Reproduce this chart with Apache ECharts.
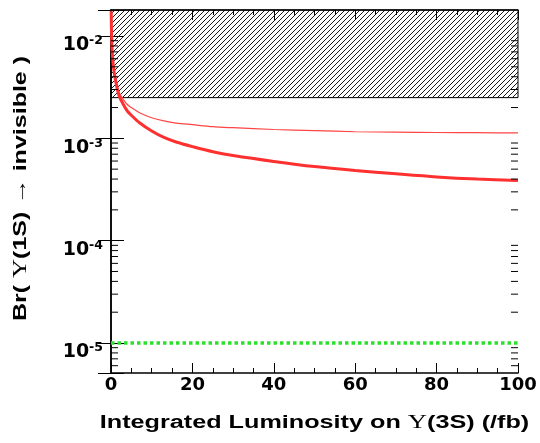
<!DOCTYPE html>
<html>
<head>
<meta charset="utf-8">
<script src="https://cdn.jsdelivr.net/npm/echarts@6/dist/echarts.min.js"></script>
<style>
  html, body { margin: 0; padding: 0; background: #fff; }
  #main { width: 540px; height: 443px; }
</style>
</head>
<body>
<div id="main"></div>
<script>
// luminosity points (/fb)
const lumi = [0.05, 0.1, 0.2, 0.3, 0.5, 0.75, 1, 1.5, 2, 3, 4, 5, 7, 10, 13, 16, 20, 25, 30, 40, 50, 60, 70, 80, 90, 100];
// thick red curve
const brThick = [0.0175, 0.012, 0.0086, 0.007, 0.0055, 0.0045, 0.0039, 0.0031, 0.0026, 0.00215, 0.00185, 0.00168, 0.00142, 0.00118,
  0.00102, 0.00092, 0.00083, 0.00074, 0.00068, 0.000595, 0.00053, 0.000485, 0.00045, 0.00042, 0.0004, 0.000388];
// thin red curve
const brThin = [0.0175, 0.012, 0.00866, 0.00708, 0.0056, 0.00462, 0.00404, 0.00328, 0.00281, 0.0024, 0.00214, 0.002, 0.00178, 0.00159,
  0.00148, 0.00141, 0.00136, 0.0013, 0.00127, 0.00122, 0.00119, 0.00116, 0.00115, 0.00114, 0.001135, 0.00113];
// green dotted level
const greenX = [0, 100];
const greenY = [1e-5, 1e-5];
// excluded (hatched) region
const hatchLow = 2.5e-3;
const yMin = 5.09e-6;
const yMax = 0.01796;
// minor ticks on log axis
const minorY = [6e-6, 7e-6, 8e-6, 9e-6,
  2e-5, 3e-5, 4e-5, 5e-5, 6e-5, 7e-5, 8e-5, 9e-5,
  2e-4, 3e-4, 4e-4, 5e-4, 6e-4, 7e-4, 8e-4, 9e-4,
  2e-3, 3e-3, 4e-3, 5e-3, 6e-3, 7e-3, 8e-3, 9e-3];

const FONT = 'Liberation Sans';
const TICKFONT = 'DejaVu Sans';

// hatch pattern "////"
const tile = document.createElement('canvas');
tile.width = 5; tile.height = 5;
const ctx = tile.getContext('2d');
ctx.strokeStyle = '#000';
ctx.lineWidth = 0.9;
ctx.beginPath();
ctx.moveTo(-1, 6); ctx.lineTo(6, -1);
ctx.moveTo(-1, 1); ctx.lineTo(1, -1);
ctx.moveTo(4, 6); ctx.lineTo(6, 4);
ctx.stroke();

const myChart = echarts.init(document.getElementById('main'));

const xAxisBase = {
  type: 'value',
  min: 0,
  max: 100,
  interval: 20,
  axisLine: { show: true, lineStyle: { color: '#000', width: 1.5 } },
  axisTick: { show: true, inside: true, length: 10, lineStyle: { color: '#000', width: 1 } },
  minorTick: { show: true, splitNumber: 4, length: 5, lineStyle: { color: '#000', width: 1 } },
  splitLine: { show: false },
  minorSplitLine: { show: false },
};

const yAxisBase = {
  type: 'log',
  logBase: 10,
  min: yMin,
  max: yMax,
  axisLine: { show: true, lineStyle: { color: '#000', width: 1.5 } },
  axisTick: { show: true, inside: true, length: 13, lineStyle: { color: '#000', width: 1 } },
  splitLine: { show: false },
};

// title text (stretched horizontally like the original)
const titleRich = {
  b: { fontFamily: FONT, fontWeight: 'bold', fontSize: 18, fill: '#000' },
  u: { fontFamily: 'Liberation Serif', fontSize: 19, fill: '#000' },
};

const option = {
  backgroundColor: '#fff',
  animation: false,
  grid: { left: 111, right: 22, top: 10, bottom: 70, show: false },
  graphic: [
    {
      type: 'text',
      x: 314.5,
      y: 423.5,
      scaleX: 1.4,
      style: {
        text: '{b|Integrated Luminosity on }{u|Υ}{b|(3S) (/fb)}',
        rich: titleRich,
        align: 'center',
        verticalAlign: 'middle',
      },
    },
    {
      type: 'text',
      x: 21.5,
      y: 188.5,
      rotation: Math.PI / 2,
      scaleX: 1.39,
      style: {
        text: '{b|Br( }{u|Υ}{b|(1S) }{u|→}{b| invisible )}',
        rich: titleRich,
        align: 'center',
        verticalAlign: 'middle',
      },
    },
  ],
  xAxis: [
    Object.assign({}, xAxisBase, {
      position: 'bottom',
      axisLabel: {
        margin: 3,
        fontFamily: TICKFONT,
        fontWeight: 'bold',
        fontSize: 18,
        color: '#000',
      },
    }),
    Object.assign({}, xAxisBase, {
      position: 'top',
      axisLabel: { show: false },
    }),
  ],
  yAxis: [
    Object.assign({}, yAxisBase, {
      position: 'left',
      axisLabel: {
        margin: 8,
        padding: [19, 0, 0, 0],
        formatter: function (v) {
          const e = Math.log10(v);
          const r = Math.round(e);
          if (Math.abs(e - r) > 1e-6) return '';
          return '{b|10}{s|' + r + '}';
        },
        rich: {
          b: { fontFamily: TICKFONT, fontWeight: 'bold', fontSize: 19, color: '#000', lineHeight: 22 },
          s: { fontFamily: TICKFONT, fontWeight: 'bold', fontSize: 12.5, color: '#000', lineHeight: 10, verticalAlign: 'top' },
        },
      },
    }),
    Object.assign({}, yAxisBase, {
      position: 'right',
      axisLabel: { show: false },
    }),
  ],
  series: [
    {
      // green dotted level + hatched excluded region
      name: 'green',
      type: 'line',
      xAxisIndex: 0,
      yAxisIndex: 0,
      data: greenX.map((x, i) => [x, greenY[i]]),
      symbol: 'none',
      lineStyle: { color: '#2ee02e', width: 3.5, type: [3.5, 3] },
      markArea: {
        silent: true,
        itemStyle: {
          color: { image: tile, repeat: 'repeat' },
          borderColor: '#000',
          borderWidth: 1,
        },
        data: [[{ xAxis: 0, yAxis: hatchLow }, { xAxis: 100, yAxis: yMax }]],
      },
      z: 3,
    },
    {
      name: 'thin',
      type: 'line',
      data: lumi.map((x, i) => [x, brThin[i]]),
      symbol: 'none',
      smooth: 0.3,
      lineStyle: { color: '#ff4545', width: 1.2 },
      z: 4,
    },
    {
      name: 'thick',
      type: 'line',
      data: lumi.map((x, i) => [x, brThick[i]]),
      symbol: 'none',
      smooth: 0.3,
      lineStyle: { color: '#ff3030', width: 3 },
      z: 5,
    },
    {
      // minor log ticks on both sides
      name: 'minor',
      type: 'custom',
      data: minorY.map((v) => [0, v]),
      silent: true,
      renderItem: function (params, api) {
        const v = api.value(1);
        const pL = api.coord([0, v]);
        const pR = api.coord([100, v]);
        const st = { stroke: '#000', lineWidth: 1 };
        return {
          type: 'group',
          children: [
            { type: 'line', shape: { x1: pL[0], y1: pL[1], x2: pL[0] + 7, y2: pL[1] }, style: st },
            { type: 'line', shape: { x1: pR[0], y1: pR[1], x2: pR[0] - 7, y2: pR[1] }, style: st },
          ],
        };
      },
      z: 6,
    },
  ],
};

myChart.setOption(option);
</script>
</body>
</html>
